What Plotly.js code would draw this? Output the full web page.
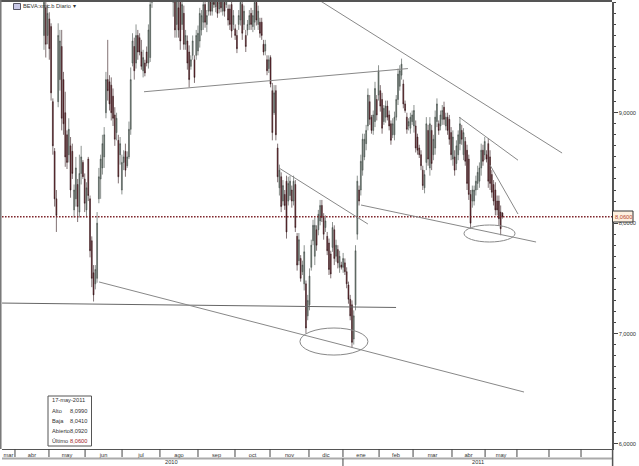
<!DOCTYPE html>
<html><head><meta charset="utf-8">
<script src="https://cdn.plot.ly/plotly-3.0.0.min.js"></script>
<style>html,body{margin:0;padding:0;background:#fff;overflow:hidden}#c{width:639px;height:466px}</style>
</head><body><div id="c"></div>
<script>
const highs=[
10.11,10.05,9.98,9.91,9.81,9.13,8.68,8.30,9.81,9.75,
9.75,9.37,9.19,8.84,8.95,8.78,8.72,8.35,8.60,8.40,
8.62,8.70,8.57,8.45,8.37,8.60,8.25,7.88,7.62,7.62,
8.10,8.50,8.62,8.80,8.87,9.37,9.66,9.34,9.32,9.22,
9.05,9.00,8.80,8.78,8.62,8.66,8.72,8.65,8.92,9.41,
9.72,9.68,9.80,9.75,9.72,9.66,9.57,9.48,9.60,9.80,
10.05,10.25,10.30,10.40,10.45,10.50,10.55,10.50,10.45,10.40,
10.35,10.30,10.25,10.20,10.15,10.12,10.10,10.08,10.05,9.97,
9.75,9.70,9.61,9.52,9.70,9.52,9.75,9.79,9.95,9.93,
10.03,10.04,9.93,10.06,10.08,10.05,10.10,10.06,10.08,10.05,
10.09,10.06,10.05,10.10,9.98,9.98,10.04,9.93,9.80,9.75,
9.93,10.05,10.03,9.97,9.75,9.84,9.93,9.95,9.93,10.05,
10.06,9.97,9.86,9.86,9.66,9.66,9.52,9.52,9.52,9.27,
9.25,9.25,8.72,8.53,8.46,8.39,8.30,8.43,8.42,8.43,
8.34,8.43,8.39,7.91,7.91,7.71,7.66,7.80,7.48,7.35,
7.59,7.85,8.03,8.05,7.98,8.12,8.21,8.21,8.09,8.07,
7.92,7.86,7.75,8.01,7.98,7.85,7.80,7.75,7.65,7.73,
7.68,7.60,7.47,7.35,7.30,7.21,7.80,8.43,8.34,8.62,
8.81,8.81,8.89,9.22,9.16,8.98,9.02,9.28,9.16,9.43,
9.25,9.18,9.07,9.11,9.11,9.02,8.93,8.95,9.01,9.16,
9.40,9.43,9.49,9.30,9.11,9.00,8.95,9.00,9.02,9.07,
8.93,8.81,8.71,8.66,8.52,8.48,8.96,8.89,8.96,8.89,
8.80,9.02,9.13,8.93,9.02,9.07,9.10,9.00,9.00,8.98,
8.87,8.84,8.66,8.75,8.84,8.96,8.89,8.86,8.78,8.71,
8.62,8.30,8.34,8.34,8.43,8.52,8.55,8.72,8.71,8.78,
8.66,8.77,8.66,8.48,8.39,8.37,8.25,8.25,8.16,8.099];
const lows=[
9.57,9.50,9.62,9.48,9.11,8.62,8.15,7.92,9.05,9.20,
8.84,8.80,8.51,8.49,8.55,8.23,8.40,8.05,8.15,8.01,
8.05,8.35,8.40,8.10,8.05,8.20,7.69,7.42,7.29,7.40,
7.46,8.18,8.22,8.44,8.50,8.95,9.11,9.02,8.93,8.88,
8.70,8.75,8.36,8.53,8.26,8.48,8.42,8.50,8.58,8.80,
9.42,9.30,9.40,9.48,9.52,9.39,9.32,9.33,9.42,9.40,
9.46,9.95,10.10,10.15,10.20,10.25,10.30,10.30,10.25,10.20,
10.10,10.08,10.05,9.87,9.68,9.68,9.68,9.57,9.75,9.57,
9.57,9.39,9.23,9.39,9.48,9.27,9.48,9.52,9.59,9.70,
9.75,9.77,9.73,9.88,9.88,9.88,9.95,9.91,9.86,9.90,
9.91,9.88,9.87,9.95,9.79,9.75,9.68,9.75,9.66,9.54,
9.75,9.79,9.66,9.75,9.55,9.70,9.75,9.75,9.73,9.75,
9.79,9.75,9.68,9.66,9.52,9.52,9.34,9.36,9.23,8.75,
8.98,8.75,8.37,8.25,8.10,8.16,8.12,7.86,8.16,8.21,
8.14,8.16,7.92,7.57,7.62,7.47,7.53,7.39,7.00,7.12,
7.21,7.57,7.80,7.62,7.75,7.89,7.98,8.01,7.85,7.92,
7.71,7.53,7.50,7.74,7.62,7.65,7.59,7.55,7.58,7.55,
7.53,7.41,7.27,7.12,6.87,6.90,7.21,7.85,8.16,8.25,
8.43,8.57,8.66,8.84,8.89,8.81,8.80,8.87,8.93,9.11,
9.01,8.81,8.89,8.91,8.93,8.84,8.71,8.77,8.75,8.93,
9.07,9.20,9.30,9.04,9.00,8.81,8.84,8.81,8.89,8.82,
8.64,8.62,8.59,8.48,8.30,8.27,8.48,8.52,8.43,8.48,
8.57,8.62,8.87,8.80,8.84,8.89,8.89,8.84,8.80,8.71,
8.57,8.52,8.43,8.48,8.57,8.66,8.71,8.57,8.52,8.30,
8.21,7.95,8.14,8.16,8.25,8.30,8.32,8.43,8.52,8.57,
8.55,8.32,8.30,8.23,8.16,8.07,8.07,7.98,7.89,8.041];
const opens=[
9.70,9.95,9.70,9.85,9.78,9.10,8.65,8.22,9.10,9.30,
9.60,9.30,9.00,8.80,8.62,8.70,8.65,8.12,8.22,8.35,
8.10,8.45,8.55,8.40,8.12,8.58,8.22,7.84,7.55,7.45,
7.50,8.22,8.40,8.50,8.60,9.00,9.30,9.28,9.25,9.15,
8.98,8.82,8.75,8.62,8.30,8.55,8.65,8.52,8.60,8.85,
9.45,9.60,9.45,9.70,9.68,9.55,9.38,9.45,9.55,9.45,
9.50,10.00,10.15,10.20,10.40,10.30,10.50,10.35,10.40,10.25,
10.30,10.15,10.20,10.00,10.05,9.80,9.95,10.00,9.80,9.90,
9.62,9.65,9.55,9.42,9.52,9.48,9.52,9.56,9.65,9.75,
9.82,9.98,9.80,9.92,10.02,9.92,10.05,9.96,10.02,9.94,
10.04,9.92,10.00,9.98,9.94,9.94,9.98,9.80,9.76,9.70,
9.80,9.84,9.98,9.80,9.70,9.75,9.80,9.90,9.78,9.82,
10.00,9.80,9.82,9.82,9.62,9.56,9.48,9.40,9.50,9.20,
9.00,9.20,8.68,8.32,8.42,8.20,8.26,8.38,8.20,8.25,
8.30,8.20,8.35,7.88,7.66,7.68,7.56,7.45,7.45,7.16,
7.26,7.60,7.84,7.70,7.94,7.94,8.02,8.16,8.05,7.96,
7.88,7.82,7.72,7.78,7.94,7.70,7.76,7.60,7.62,7.60,
7.64,7.56,7.44,7.31,7.26,6.95,7.26,7.90,8.30,8.30,
8.48,8.60,8.72,8.88,9.10,8.96,8.84,8.92,9.12,9.16,
9.20,9.12,8.92,8.96,9.06,8.98,8.90,8.80,8.80,8.96,
9.12,9.24,9.34,9.26,9.08,8.96,8.88,8.86,8.92,8.88,
8.88,8.78,8.68,8.62,8.48,8.32,8.55,8.84,8.50,8.84,
8.62,8.68,8.92,8.90,8.88,8.94,9.05,8.88,8.96,8.94,
8.82,8.58,8.60,8.54,8.62,8.72,8.84,8.62,8.74,8.66,
8.58,8.26,8.20,8.20,8.30,8.36,8.38,8.50,8.66,8.62,
8.62,8.72,8.60,8.44,8.35,8.30,8.20,8.20,8.10,8.092];
const closes=[
10.00,9.62,9.90,9.58,9.18,8.70,8.22,8.07,9.70,9.65,
8.95,8.90,8.60,8.55,8.85,8.30,8.45,8.30,8.50,8.15,
8.45,8.60,8.42,8.18,8.32,8.25,7.75,7.50,7.35,7.58,
8.00,8.42,8.58,8.72,8.80,9.30,9.20,9.08,9.00,8.95,
8.76,8.95,8.42,8.72,8.55,8.60,8.48,8.60,8.85,9.30,
9.65,9.38,9.70,9.55,9.55,9.42,9.50,9.36,9.45,9.75,
9.98,10.18,10.25,10.35,10.25,10.45,10.35,10.45,10.28,10.35,
10.15,10.25,10.08,10.10,9.75,10.02,9.75,9.65,9.98,9.62,
9.70,9.45,9.30,9.48,9.65,9.32,9.70,9.72,9.90,9.88,
9.98,9.82,9.88,10.02,9.92,10.00,9.98,10.02,9.90,10.00,
9.95,10.02,9.92,10.06,9.84,9.80,9.74,9.88,9.70,9.58,
9.88,10.00,9.72,9.92,9.60,9.80,9.88,9.80,9.88,10.00,
9.84,9.92,9.72,9.70,9.55,9.62,9.38,9.48,9.26,8.82,
9.18,8.80,8.42,8.48,8.15,8.34,8.16,7.92,8.36,8.38,
8.20,8.38,7.96,7.62,7.85,7.50,7.62,7.74,7.05,7.30,
7.52,7.80,7.98,7.98,7.80,8.08,8.16,8.05,7.90,8.02,
7.75,7.58,7.54,7.96,7.68,7.80,7.64,7.70,7.60,7.68,
7.56,7.45,7.31,7.16,6.92,7.16,7.75,8.38,8.20,8.56,
8.76,8.76,8.84,9.16,8.94,8.84,8.98,9.22,8.98,9.38,
9.06,8.86,9.04,9.06,8.96,8.88,8.75,8.90,8.96,9.12,
9.35,9.38,9.44,9.08,9.02,8.85,8.92,8.96,8.98,9.02,
8.68,8.66,8.62,8.52,8.34,8.44,8.90,8.58,8.90,8.54,
8.76,8.96,9.08,8.84,8.98,9.02,8.94,8.96,8.84,8.76,
8.62,8.78,8.48,8.70,8.80,8.90,8.76,8.82,8.56,8.36,
8.26,8.00,8.30,8.30,8.38,8.46,8.50,8.66,8.56,8.74,
8.58,8.38,8.36,8.28,8.20,8.12,8.12,8.04,7.95,8.06];
const sessions=highs.map((_,i)=>i);

const monthEdges=[-23.7,-16.4,2.8,23.2,44.1,65.5,87,107.9,127.7,149.7,168.9,189.3,208.5,230.5,249.2,267.2,285.3,303.4];
const monthLabels=['mar','abr','may','jun','jul','ago','sep','oct','nov','dic','ene','feb','mar','abr','may'];
const priceTicks=[6,7,8,9];
const priceLabels=['6,0000','7,0000','8,0000','9,0000'];
const lastPrice=8.058;
const infoLabels=['Alto','Baja','Abierto','Último'];
const infoValues=['8,0990','8,0410','8,0920','8,0600'];
const lineX1=[56.5,155.4,234.5,252,179.1,132.8,-23.7,31.1];
const lineX2=[205.6,292.7,267.8,267.8,278,183,198.9,271.2];
const lineY1=[9.19,10.02,8.96,8.526,8.164,8.499,7.276,7.467];
const lineY2=[9.40,8.635,8.57,8.082,7.829,7.992,7.236,6.47];
const ovalX=[[144.6,183],[237.3,266.1]];
const ovalY=[[6.805,7.05],[7.829,7.983]];

const L=2,T=2,R=612,B=449;
const px=x=>(x-L)/(R-L), py=y=>(B-y)/(B-T);
const traces=[{
  type:'candlestick',x:sessions,open:opens,high:highs,low:lows,close:closes,width:0.6,
  increasing:{line:{color:'#3f4a44',width:0.6},fillcolor:'#75807a'},
  decreasing:{line:{color:'#2e1216',width:0.6},fillcolor:'#6f2028'},
  whiskerwidth:0,hoverinfo:'skip',showlegend:false
},{
  type:'scatter',mode:'lines',x:[-23.7,320.9],y:[lastPrice,lastPrice],
  line:{color:'#7a1f25',width:1.6,dash:'1.5px,1.5px'},hoverinfo:'skip',showlegend:false
}];
lineX1.forEach((x,i)=>traces.push({type:'scatter',mode:'lines',x:[x,lineX2[i]],y:[lineY1[i],lineY2[i]],
  line:{color:i===6?'#666':'#888',width:1},hoverinfo:'skip',showlegend:false}));

const shapes=[];
ovalX.forEach((o,i)=>shapes.push({type:'circle',xref:'x',yref:'y',x0:o[0],x1:o[1],y0:ovalY[i][0],y1:ovalY[i][1],line:{color:'#888',width:1}}));
const stripY=py(457), barY=py(458.5);
monthEdges.slice(1).forEach(e=>shapes.push({type:'line',xref:'x',yref:'paper',x0:e,x1:e,y0:0,y1:stripY,line:{color:'#444',width:1}}));
shapes.push({type:'line',xref:'paper',yref:'paper',x0:0,x1:1,y0:barY,y1:barY,line:{color:'#aaa',width:2}});
shapes.push({type:'line',xref:'x',yref:'paper',x0:168.9,x1:168.9,y0:barY,y1:py(466),line:{color:'#444',width:1}});
shapes.push({type:'line',xref:'paper',yref:'paper',x0:1.001,x1:1.001,y0:0,y1:py(466),line:{color:'#555',width:1.5}});
shapes.push({type:'rect',xref:'paper',yref:'paper',x0:px(48),x1:px(91.5),y0:py(396),y1:py(446),fillcolor:'#fff',line:{color:'#555',width:1}});
shapes.push({type:'rect',xref:'paper',yref:'paper',x0:px(612.5),x1:px(633),y0:py(211),y1:py(222),fillcolor:'#fdf0e0',line:{color:'#333',width:1}});
shapes.push({type:'rect',xref:'paper',yref:'paper',x0:px(13.5),x1:px(20.5),y0:py(3.5),y1:py(9.5),fillcolor:'#c9c9e8',line:{color:'#556',width:1}});

const font={family:'Liberation Sans, Arial, sans-serif',size:5.7,color:'#333'};
const note=(text,x,y,anchor,extra)=>Object.assign({text,xref:'paper',yref:'paper',x:px(x),y:py(y),xanchor:anchor,yanchor:'middle',showarrow:false,font,borderpad:0},extra||{});
const anns=[
  note('BEVA:xmc.b Diario ▾',22,6,'left'),
  note('17-may-2011',51,400,'left'),
  note('2010',171,462,'center'),
  note('2011',478,462,'center'),
  note('8,0600',623,216.5,'center',{font:Object.assign({},font,{color:'#b5452a'})})
];
[410.5,421,431,441].forEach((y,i)=>{
  anns.push(note(infoLabels[i],51,y,'left'));
  anns.push(note(infoValues[i],88,y,'right',i===3?{font:Object.assign({},font,{color:'#a01c24'})}:{}));
});

const mids=monthLabels.map((_,i)=>(monthEdges[i]+monthEdges[i+1])/2);
const layout={
  width:639,height:466,margin:{l:L,t:T,r:639-R,b:466-B,pad:0},
  paper_bgcolor:'#fff',plot_bgcolor:'#fff',showlegend:false,dragmode:false,
  xaxis:{type:'linear',range:[-23.73,320.9],tickmode:'array',tickvals:mids,ticktext:monthLabels,ticks:'',
    tickfont:font,showgrid:false,zeroline:false,showline:true,linecolor:'#555',linewidth:1,mirror:false,
    rangeslider:{visible:false},fixedrange:true,tickangle:0},
  yaxis:{side:'right',range:[5.954,10.003],tickmode:'array',tickvals:priceTicks,ticktext:priceLabels,
    ticks:'outside',ticklen:4,tickcolor:'#444',tickwidth:1,tickfont:font,showgrid:false,zeroline:false,
    showline:true,linecolor:'#555',linewidth:1.5,fixedrange:true,
    minor:{tickmode:'array',tickvals:[6.1,6.2,6.3,6.4,6.5,6.6,6.7,6.8,6.9,7.1,7.2,7.3,7.4,7.5,7.6,7.7,7.8,7.9,8.1,8.2,8.3,8.4,8.5,8.6,8.7,8.8,8.9,9.1,9.2,9.3,9.4,9.5,9.6,9.7,9.8,9.9,10],ticks:'outside',ticklen:2,tickcolor:'#444',showgrid:false}},
  shapes:shapes.concat([
    {type:'line',xref:'paper',yref:'paper',x0:-0.003,x1:1,y0:1.002,y1:1.002,line:{color:'#555',width:2}},
    {type:'line',xref:'paper',yref:'paper',x0:-0.002,x1:-0.002,y0:py(0),y1:py(449),line:{color:'#777',width:1.5}}
  ]),
  annotations:anns
};
Plotly.newPlot('c',traces,layout,{staticPlot:true,displayModeBar:false});
</script></body></html>
